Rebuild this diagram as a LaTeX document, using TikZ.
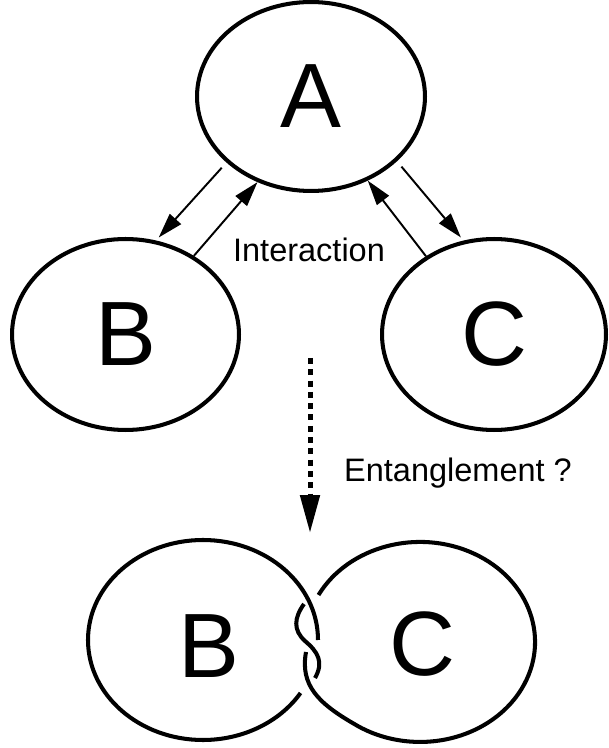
\documentclass[tikz,border=0pt]{standalone}
\usepackage{fontspec}
\setmainfont{Liberation Sans}
\usepackage{tikz}
\usetikzlibrary{arrows.meta}
\usetikzlibrary{shapes.geometric}

\begin{document}
\begin{tikzpicture}[x=0.02cm, y=0.02cm,
    blob/.style={ellipse, draw, line width=2.3pt, inner sep=0pt, minimum width=4.54cm, minimum height=3.82cm, font=\fontsize{52}{52}\selectfont},
    letter/.style={anchor=base, inner sep=0pt, font=\fontsize{52}{52}\selectfont},
    caption/.style={anchor=base, inner sep=0pt, font=\fontsize{18.5}{18.5}\selectfont},
    link/.style={line width=1.1pt, -{Triangle[length=0.5cm, width=0.3cm]}},
    away/.style={shorten <=0.14cm, shorten >=0.08cm},
    hint/.style={line width=0.1cm, dash pattern=on 0.12cm off 0.106cm, -{Triangle[length=0.76cm, width=0.38cm]}},
    rim/.style={line width=2.3pt}]
  \useasboundingbox (0, 0) rectangle (609, 748);

  \node [blob, minimum width=4.56cm, minimum height=3.78cm] (A) at (311, 651.5) {A};
  \node [blob] (B) at (125.5, 413.5) {B}; \node [blob, minimum width=4.48cm] (C) at (494, 413.5) {C};
  \node [caption] (talk) at (309, 486) {Interaction};

  \path [link]
  (A.218) edge [away] (B.72)
  (B.49) edge (A.238)
  (A.323) edge [away] (C.108)
  (C.131) edge (A.304);

  \coordinate (drop) at (310, 390); \coordinate (land) at (310, 215);
  \draw [hint] (drop) -- (land);
  \node [caption] (ask) at (458, 266.5) {Entanglement ?};

  % the linked pair
  \node [letter] (Bent) at (209, 71) {B}; \node [letter] (Cent) at (422, 72) {C};
  \draw [rim] (318, 108) arc [start angle=0, end angle=328, x radius=115, y radius=100];
  \draw [rim] (318.5, 153) arc [start angle=152, end angle=-125, x radius=115, y radius=100]
    .. controls (318, 45) and (300, 63) .. (306, 96);
  \draw [rim] (304, 144) .. controls (294, 130) and (293, 118) .. (305, 107)
    .. controls (318, 96) and (324, 86) .. (315, 70);
\end{tikzpicture}
\end{document}
